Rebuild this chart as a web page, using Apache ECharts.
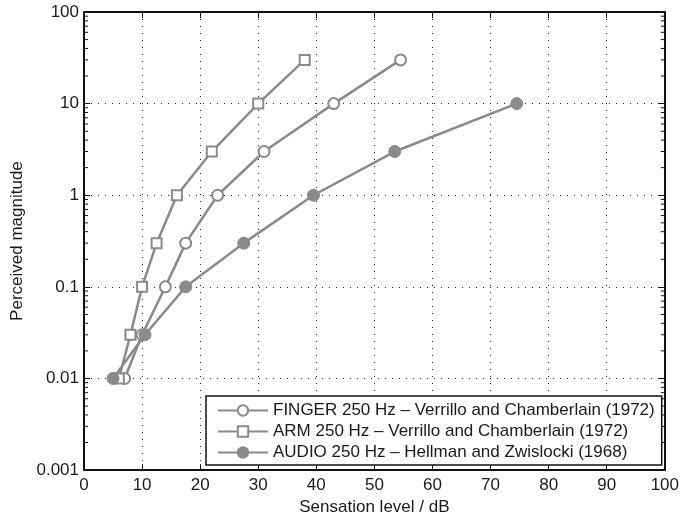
<!DOCTYPE html>
<html>
<head>
<meta charset="utf-8">
<script src="https://cdn.jsdelivr.net/npm/echarts@6/dist/echarts.min.js"></script>
<style>
html,body{margin:0;padding:0;background:#fff;}
#chart{width:682px;height:521px;}
</style>
</head>
<body>
<div id="chart"></div>
<script>
// Data
const fingerX = [7, 10, 14, 17.5, 23, 31, 43, 54.5];
const fingerY = [0.01, 0.03, 0.1, 0.3, 1, 3, 10, 30];
const armX = [6, 8, 10, 12.5, 16, 22, 30, 38];
const armY = [0.01, 0.03, 0.1, 0.3, 1, 3, 10, 30];
const audioX = [5, 10.5, 17.5, 27.5, 39.5, 53.5, 74.5];
const audioY = [0.01, 0.03, 0.1, 0.3, 1, 3, 10];
const seriesNames = [
  'FINGER 250 Hz \u2013 Verrillo and Chamberlain (1972)',
  'ARM 250 Hz \u2013 Verrillo and Chamberlain (1972)',
  'AUDIO 250 Hz \u2013 Hellman and Zwislocki (1968)'
];
const xTitle = 'Sensation level / dB';
const yTitle = 'Perceived magnitude';
// log-axis minor tick positions (2..9 within each decade)
const decades = [0.001, 0.01, 0.1, 1, 10];
const minorMultipliers = [2, 3, 4, 5, 6, 7, 8, 9];

const FONT = '"Liberation Sans", Arial, Helvetica, sans-serif';
const FS = 17;
const GRAY = '#8a8a8a';
const TXT = '#1a1a1a';
const zip = (xs, ys) => xs.map((x, i) => [x, ys[i]]);
const minorVals = [];
decades.forEach(d => minorMultipliers.forEach(m => minorVals.push(+(d * m).toPrecision(6))));

const chart = echarts.init(document.getElementById('chart'), null, {renderer: 'canvas'});

const gridLine = {show: true, lineStyle: {color: '#222', width: 1, type: [1, 6]}};
const axisLine = {show: true, onZero: false, lineStyle: {color: '#111', width: 2}};
const majorTick = {show: true, inside: true, length: 6, lineStyle: {color: '#111', width: 1}};

const option = {
  backgroundColor: '#fff',
  animation: false,
  textStyle: {fontFamily: FONT},
  grid: {left: 84, right: 13, top: 12, bottom: 48, containLabel: false},
  legend: {
    orient: 'vertical',
    left: 206,
    top: 396,
    padding: [6, 7, 4, 11],
    itemGap: 4,
    itemWidth: 50,
    itemHeight: 13,
    borderColor: '#111',
    borderWidth: 1.5,
    backgroundColor: '#fff',
    textStyle: {fontFamily: FONT, fontSize: FS, color: TXT, lineHeight: 17},
    data: seriesNames
  },
  xAxis: [{
    type: 'value', min: 0, max: 100, interval: 10,
    position: 'bottom',
    name: xTitle, nameLocation: 'middle', nameGap: 26,
    nameTextStyle: {fontFamily: FONT, fontSize: FS, color: TXT},
    axisLine: axisLine,
    axisTick: majorTick,
    axisLabel: {fontFamily: FONT, fontSize: FS, color: TXT, margin: 7},
    splitLine: gridLine
  }, {
    type: 'value', min: 0, max: 100, interval: 10,
    position: 'top',
    axisLine: axisLine,
    axisTick: majorTick,
    axisLabel: {show: false},
    splitLine: {show: false}
  }],
  yAxis: [{
    type: 'log', logBase: 10, min: 0.001, max: 100,
    position: 'left',
    name: yTitle, nameLocation: 'middle', nameGap: 51,
    nameTextStyle: {fontFamily: FONT, fontSize: FS, color: TXT},
    axisLine: axisLine,
    axisTick: majorTick,
    axisLabel: {fontFamily: FONT, fontSize: FS, color: TXT, margin: 5,
      formatter: v => String(v)},
    splitLine: gridLine
  }, {
    type: 'log', logBase: 10, min: 0.001, max: 100,
    position: 'right',
    axisLine: axisLine,
    axisTick: majorTick,
    axisLabel: {show: false},
    splitLine: {show: false}
  }],
  series: [{
    name: 'minorTicks', type: 'custom', xAxisIndex: 0, yAxisIndex: 0,
    silent: true, z: 5,
    data: minorVals.map(v => [0, v]),
    encode: {x: 0, y: 1},
    renderItem: function (params, api) {
      const v = api.value(1);
      const pL = api.coord([0, v]);
      const pR = api.coord([100, v]);
      const st = {stroke: '#111', lineWidth: 1};
      return {
        type: 'group',
        children: [
          {type: 'line', shape: {x1: pL[0], y1: pL[1], x2: pL[0] + 4, y2: pL[1]}, style: st},
          {type: 'line', shape: {x1: pR[0] - 4, y1: pR[1], x2: pR[0], y2: pR[1]}, style: st}
        ]
      };
    }
  }, {
    name: seriesNames[0], type: 'line', xAxisIndex: 0, yAxisIndex: 0,
    data: zip(fingerX, fingerY),
    symbol: 'circle', symbolSize: 11,
    lineStyle: {color: GRAY, width: 2.5},
    itemStyle: {color: '#fff', borderColor: GRAY, borderWidth: 2},
    z: 3
  }, {
    name: seriesNames[1], type: 'line', xAxisIndex: 0, yAxisIndex: 0,
    data: zip(armX, armY),
    symbol: 'rect', symbolSize: 10,
    lineStyle: {color: GRAY, width: 2.5},
    itemStyle: {color: '#fff', borderColor: GRAY, borderWidth: 2},
    z: 3
  }, {
    name: seriesNames[2], type: 'line', xAxisIndex: 0, yAxisIndex: 0,
    data: zip(audioX, audioY),
    symbol: 'circle', symbolSize: 12,
    lineStyle: {color: GRAY, width: 2.5},
    itemStyle: {color: GRAY, borderColor: GRAY, borderWidth: 1},
    z: 4
  }]
};
chart.setOption(option);
</script>
</body>
</html>
